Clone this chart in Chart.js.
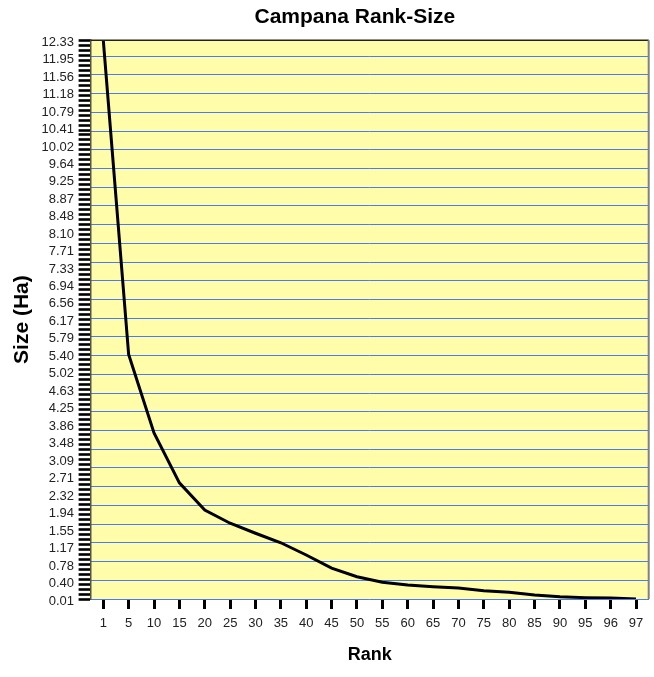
<!DOCTYPE html>
<html>
<head>
<meta charset="utf-8">
<script src="https://cdn.jsdelivr.net/npm/chart.js@4/dist/chart.umd.min.js"></script>
<style>
  html, body { margin: 0; padding: 0; background: #ffffff; }
  #wrap { width: 654px; height: 677px; }
</style>
</head>
<body>
<div id="wrap"><canvas id="c" width="654" height="677"></canvas></div>
<script>
// Rank of each site and its size in hectares
const rankLabels = ['1', '5', '10', '15', '20', '25', '30', '35', '40', '45', '50',
                    '55', '60', '65', '70', '75', '80', '85', '90', '95', '96', '97'];
const sizeHa = [12.33, 5.40, 3.67, 2.57, 1.97, 1.68, 1.46, 1.25, 0.98, 0.69, 0.50,
                0.38, 0.32, 0.28, 0.25, 0.19, 0.16, 0.10, 0.06, 0.04, 0.03, 0.01];

// Value-axis labels
const sizeTickLabels = ['0.01', '0.40', '0.78', '1.17', '1.55', '1.94', '2.32', '2.71', '3.09',
                        '3.48', '3.86', '4.25', '4.63', '5.02', '5.40', '5.79', '6.17', '6.56',
                        '6.94', '7.33', '7.71', '8.10', '8.48', '8.87', '9.25', '9.64', '10.02',
                        '10.41', '10.79', '11.18', '11.56', '11.95', '12.33'];

const SIZE_MIN = 0.01;
const SIZE_MAX = 12.33;
const GRID_STEP = 0.4126;   // spacing of the blue guide lines
const GRID_COUNT = 30;
const MINOR_STEP = 0.11;    // spacing of the ruler ticks on the value axis

const FONT = '"Liberation Sans", Arial, sans-serif';

function stepTicks(start, step, max) {
  const out = [];
  for (let k = 0; start + k * step <= max + 1e-9; k++) out.push({ value: start + k * step });
  return out;
}

// Yellow plot background plus the top and right frame edges
const plotFrame = {
  id: 'plotFrame',
  afterLayout(chart) {
    // centre the heading a little right of the canvas middle, over the plot
    const t = chart.titleBlock;
    if (t) { t.left = 61; }
  },
  beforeDraw(chart) {
    const { ctx, chartArea: a } = chart;
    ctx.save();
    ctx.fillStyle = '#FFFDA9';
    ctx.fillRect(a.left, a.top, a.right - a.left, a.bottom - a.top);
    ctx.restore();
  },
  afterDraw(chart) {
    const { ctx, chartArea: a } = chart;
    ctx.save();
    ctx.strokeStyle = '#222222';
    ctx.lineWidth = 1.5;
    ctx.beginPath();
    ctx.moveTo(a.left, a.top);
    ctx.lineTo(a.right, a.top);
    ctx.stroke();
    ctx.strokeStyle = '#808080';
    ctx.lineWidth = 2;
    ctx.beginPath();
    ctx.moveTo(a.right, a.top);
    ctx.lineTo(a.right, a.bottom);
    ctx.stroke();
    ctx.restore();
  }
};

new Chart(document.getElementById('c'), {
  type: 'line',
  data: {
    labels: rankLabels,
    datasets: [{
      label: 'Size (Ha)',
      data: sizeHa,
      borderColor: '#000000',
      borderWidth: 3,
      pointRadius: 0,
      tension: 0,
      fill: false,
      xAxisID: 'x',
      yAxisID: 'y'
    }]
  },
  options: {
    responsive: false,
    animation: false,
    devicePixelRatio: 1,
    layout: { padding: { left: 0, right: 5.3, top: 0, bottom: 0 } },
    plugins: {
      legend: { display: false },
      tooltip: { enabled: false },
      title: {
        display: true,
        text: 'Campana Rank-Size',
        color: '#000000',
        font: { family: FONT, size: 21, weight: 'bold' },
        padding: { top: 5, bottom: 10 }
      }
    },
    scales: {
      x: {
        type: 'category',
        position: 'bottom',
        offset: true,
        grid: { drawOnChartArea: false, drawTicks: true, tickLength: 10, tickWidth: 3, tickColor: '#000000', offset: false },
        border: { display: false },
        ticks: { autoSkip: false, maxRotation: 0, minRotation: 0, padding: 7, color: '#222222', font: { family: FONT, size: 13 } },
        title: { display: true, text: 'Rank', color: '#000000', font: { family: FONT, size: 18, weight: 'bold' }, padding: { top: 0, bottom: 11 } },
        afterFit(s) { s.height = 78; }
      },
      ySize: {
        type: 'linear',
        position: 'left',
        weight: 2,
        min: SIZE_MIN,
        max: SIZE_MAX,
        afterBuildTicks(s) { s.ticks = sizeTickLabels.map(t => ({ value: parseFloat(t) })); },
        ticks: {
          autoSkip: false,
          padding: 3,
          labelOffset: 2,
          color: '#222222',
          font: { family: FONT, size: 13 },
          callback: (v, i) => sizeTickLabels[i]
        },
        grid: { display: false, drawTicks: false },
        border: { display: false },
        title: { display: true, text: 'Size (Ha)', color: '#000000', font: { family: FONT, size: 21, weight: 'bold' }, padding: { top: 10, bottom: 0 } },
        afterFit(s) { s.width = 77; }
      },
      y: {
        type: 'linear',
        position: 'left',
        weight: 1,
        min: SIZE_MIN,
        max: SIZE_MAX,
        afterBuildTicks(s) { s.ticks = stepTicks(SIZE_MIN, MINOR_STEP, SIZE_MAX); },
        ticks: { display: false },
        grid: { drawOnChartArea: false, drawTicks: true, tickLength: 12, tickWidth: 2.6, tickColor: '#000000' },
        border: { display: true, color: '#55553f', width: 1.5 },
        afterFit(s) { s.width = 13.6; }
      },
      yGrid: {
        type: 'linear',
        position: 'right',
        min: SIZE_MIN,
        max: SIZE_MAX,
        afterBuildTicks(s) {
          s.ticks = stepTicks(SIZE_MIN, GRID_STEP, SIZE_MIN + (GRID_COUNT - 1) * GRID_STEP);
        },
        ticks: { display: false },
        grid: { color: '#4a7cf0', lineWidth: 1, drawTicks: false },
        border: { display: false },
        afterFit(s) { s.width = 0; }
      }
    }
  },
  plugins: [plotFrame]
});
</script>
</body>
</html>
